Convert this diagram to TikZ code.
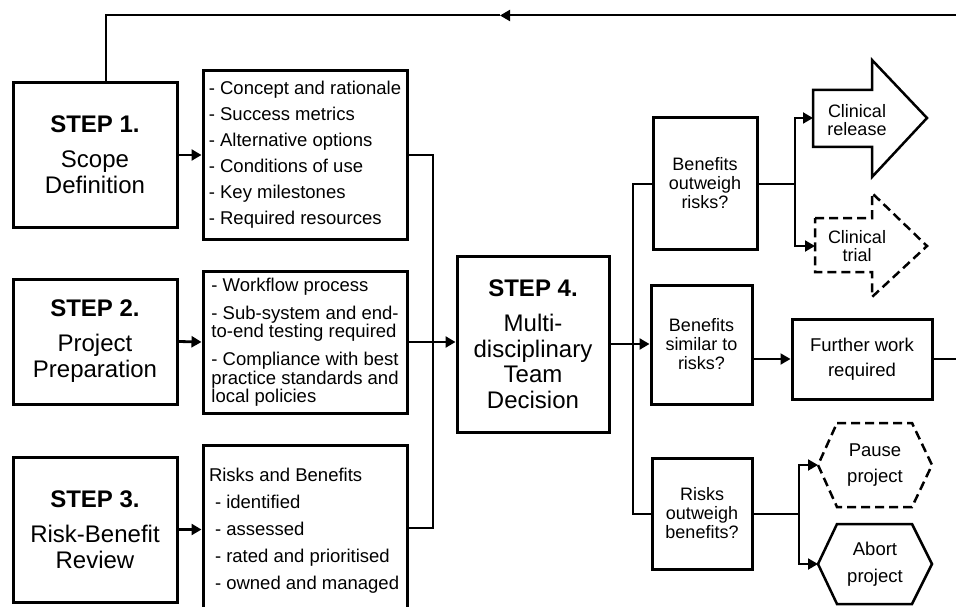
\documentclass[tikz,border=0pt]{standalone}
\usepackage{fontspec}
\setmainfont{Liberation Sans}
\usetikzlibrary{arrows.meta,calc}
\begin{document}
\begin{tikzpicture}[x=1pt,y=-1pt,
  box/.style={draw,line width=3pt,inner sep=0pt,align=center},
  stepbox/.style={box,font=\fontsize{24}{26}\selectfont},
  listbox/.style={box,align=left,font=\fontsize{18.5}{26}\selectfont},
  qbox/.style={box,font=\fontsize{18}{19}\selectfont},
  plain/.style={inner sep=0pt,outer sep=0pt,align=center},
  outline/.style={line width=2.5pt,line join=miter},
  dashline/.style={outline,dash pattern=on 9pt off 5pt},
  conn/.style={line width=2pt},
  connB/.style={line width=2.8pt},
  tip/.style={-{Triangle[length=10pt,width=11pt]}}
]
\useasboundingbox (0,0) rectangle (956,607);
\clip (0,0) rectangle (956,607);

% Steps
\node[stepbox,minimum width=164,minimum height=144] (s1) at (95,155)
  {\textbf{STEP 1.}\\[9pt]Scope\\Definition};
\node[stepbox,minimum width=164,minimum height=125] (s2) at (95,341.5)
  {\textbf{STEP 2.}\\[9pt]Project\\Preparation};
\node[stepbox,minimum width=164,minimum height=145] (s3) at (95,529.5)
  {\textbf{STEP 3.}\\[9pt]Risk-Benefit\\Review};
\node[stepbox,minimum width=152,minimum height=176,font=\fontsize{24}{25.5}\selectfont] (s4) at (533,344)
  {\textbf{STEP 4.}\\[10pt]Multi-\\disciplinary\\Team\\Decision};

% Lists
\node[listbox,minimum width=204,minimum height=168] (b1) at (305,155)
  {- Concept and rationale\\- Success metrics\\- Alternative options\\- Conditions of use\\- Key milestones\\- Required resources};
\node[listbox,minimum width=204,minimum height=142,font=\fontsize{18.5}{18.5}\selectfont] (b2) at (305,342)
  {- Workflow process\\[9.5pt]- Sub-system and end-\\to-end testing required\\[9.5pt]- Compliance with best\\practice standards and\\local policies};
\node[box,minimum width=204,minimum height=180,font=\fontsize{18.5}{27}\selectfont] (b3) at (305,535)
  {\parbox[c][170pt][t]{192pt}{\raggedright\rule{0pt}{31pt}Risks and Benefits\\
   \hspace*{6pt}- identified\\ \hspace*{6pt}- assessed\\ \hspace*{6pt}- rated and prioritised\\ \hspace*{6pt}- owned and managed}};

% Decisions
\node[qbox,minimum width=104,minimum height=131] (q1) at (705,183.5) {Benefits\\outweigh\\risks?};
\node[qbox,minimum width=101,minimum height=119] (q2) at (701.5,344.5) {Benefits\\similar to\\risks?};
\node[qbox,minimum width=100,minimum height=111] (q3) at (702,513.5) {Risks\\outweigh\\benefits?};
\node[box,minimum width=140,minimum height=80,font=\fontsize{18.5}{25}\selectfont] (fw) at (862,359) {Further work\\required};

% Outcomes: arrows
\node[plain,font=\fontsize{18}{18.5}\selectfont] (rel) at (857,120) {Clinical\\release};
\draw[outline] (813,90) -- (872,90) -- (872,60) -- (927,118) -- (872,177) -- (872,147) -- (813,147) -- cycle;
\coordinate (relL) at (813,118);
\node[plain,font=\fontsize{18}{18.5}\selectfont] (tri) at (857,246) {Clinical\\trial};
\draw[dashline] (815,218) -- (872,218) -- (872,193) -- (927,246) -- (872,297) -- (872,272) -- (815,272) -- cycle;
\coordinate (triL) at (815,246);

% Outcomes: hexagons
\node[plain,minimum width=114,minimum height=84,font=\fontsize{18.5}{26}\selectfont] (pause) at (875,465) {Pause\\project};
\draw[dashline] ([xshift=19pt]pause.north west) -- ([xshift=-20pt]pause.north east) -- (pause.east)
  -- ([xshift=-20pt]pause.south east) -- ([xshift=19pt]pause.south west) -- (pause.west) -- cycle;
\node[plain,minimum width=114,minimum height=80,font=\fontsize{18.5}{27}\selectfont] (abort) at (875,564) {Abort\\project};
\draw[outline] ([xshift=19pt]abort.north west) -- ([xshift=-20pt]abort.north east) -- (abort.east)
  -- ([xshift=-20pt]abort.south east) -- ([xshift=19pt]abort.south west) -- (abort.west) -- cycle;

% Connectors left
\draw[connB,tip] (s1.east) -- (b1.west);
\draw[connB,tip] (s2.east) -- (b2.west);
\draw[connB,tip] (s3.east) -- (s3.east -| b3.west);
\coordinate (mt) at (433,155);
\coordinate (mb) at (433,528);
\draw[connB] (b1.east) -- (mt) -- (mb) -- (mb -| b3.east);
\draw[connB,tip] (b2.east) -- (b2.east -| s4.west);
\draw[connB,tip] (s4.east) -- (s4.east -| q2.west);

% Connectors right
\coordinate (dt) at (633,185);
\draw[conn] (q1.west) -| (dt) -- (dt |- q3.west) -- (q3.west);
\coordinate (f1) at ($(q1.east)+(36,0)$);
\draw[conn] (q1.east) -- (f1);
\draw[conn,tip] (f1) |- (relL);
\draw[conn,tip] (f1) |- (triL);
\draw[conn,tip] (fw.west -| q2.east) -- (fw.west);
\coordinate (f3) at ($(q3.east)+(45,0)$);
\draw[conn] (q3.east) -- (f3);
\draw[conn,tip] (f3) |- (pause.west);
\draw[conn,tip] (f3) |- (abort.west);

% Feedback loop
\coordinate (topm) at (500,15.5);
\coordinate (rc) at (990,15.5);
\draw[conn,tip] (fw.east) -| (rc) -- (topm);
\draw[conn] (topm) -| ([xshift=11pt]s1.north);
\end{tikzpicture}
\end{document}
